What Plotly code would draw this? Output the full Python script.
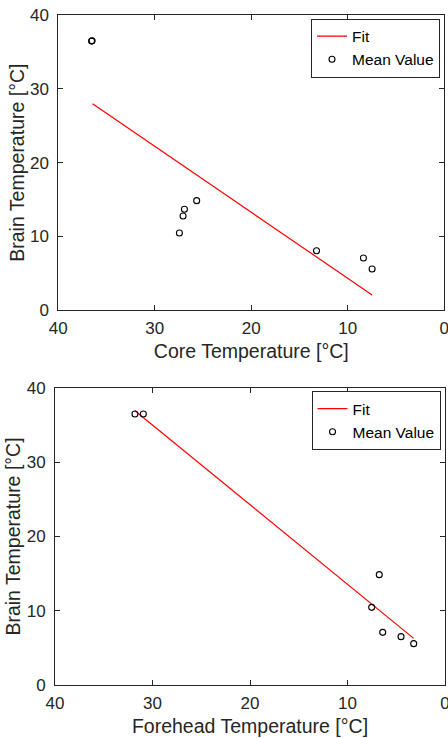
import plotly.graph_objects as go

# ---- data ----
core_x = [36.55, 36.5, 27.45, 27.07, 26.93, 25.66, 13.24, 8.38, 7.48]
core_brain_y = [36.5, 36.55, 10.45, 12.76, 13.67, 14.84, 8.05, 7.06, 5.57]
core_fit_x = [36.45, 7.48]
core_fit_y = [28.0, 2.04]

fore_x = [31.8, 30.94, 6.74, 7.52, 6.39, 4.51, 3.21]
fore_brain_y = [36.5, 36.5, 14.86, 10.46, 7.09, 6.51, 5.57]
fore_fit_x = [31.8, 3.21]
fore_fit_y = [36.94, 6.28]

tick_vals = [0, 10, 20, 30, 40]
tick_text = ["0", "10", "20", "30", "40"]

FONT = "Liberation Sans, Arial, Helvetica, sans-serif"
AX = "#262626"
W, H = 448, 738

fig = go.Figure()

# top panel
fig.add_trace(go.Scatter(x=core_fit_x, y=core_fit_y, mode="lines", name="Fit",
                         line=dict(color="#ff0000", width=1.2),
                         xaxis="x", yaxis="y", legend="legend"))
fig.add_trace(go.Scatter(x=core_x, y=core_brain_y, mode="markers", name="Mean Value",
                         marker=dict(symbol="circle-open", size=6, color="black",
                                     line=dict(width=1.1, color="black")),
                         xaxis="x", yaxis="y", legend="legend"))
# bottom panel
fig.add_trace(go.Scatter(x=fore_fit_x, y=fore_fit_y, mode="lines", name="Fit",
                         line=dict(color="#ff0000", width=1.2),
                         xaxis="x2", yaxis="y2", legend="legend2"))
fig.add_trace(go.Scatter(x=fore_x, y=fore_brain_y, mode="markers", name="Mean Value",
                         marker=dict(symbol="circle-open", size=6, color="black",
                                     line=dict(width=1.1, color="black")),
                         xaxis="x2", yaxis="y2", legend="legend2"))


def xax(domain, anchor, title):
    return dict(domain=domain, anchor=anchor, range=[40, 0], tickvals=tick_vals,
                ticktext=tick_text, ticks="inside", ticklen=5, tickwidth=1,
                tickcolor=AX, showline=True, linecolor=AX, linewidth=1,
                mirror="ticks", showgrid=False, zeroline=False, automargin=False,
                ticklabeloverflow="allow",
                tickfont=dict(family=FONT, size=17, color=AX),
                ticklabelstandoff=3,
                title=dict(text=title, font=dict(family=FONT, size=19.5, color=AX),
                           standoff=6))


def yax(domain, anchor, title):
    return dict(domain=domain, anchor=anchor, range=[0, 40], tickvals=tick_vals,
                ticktext=tick_text, ticks="inside", ticklen=5, tickwidth=1,
                tickcolor=AX, showline=True, linecolor=AX, linewidth=1,
                mirror="ticks", showgrid=False, zeroline=False, automargin=False,
                ticklabeloverflow="allow",
                tickfont=dict(family=FONT, size=17, color=AX),
                ticklabelstandoff=5,
                title=dict(text=title, font=dict(family=FONT, size=19.5, color=AX),
                           standoff=0))


def leg(x_right, y_top):
    return dict(x=x_right / W, y=1 - y_top / H, xanchor="right", yanchor="top",
                bgcolor="white", bordercolor=AX, borderwidth=1,
                font=dict(family=FONT, size=15.5, color="black"),
                tracegroupgap=0, itemwidth=30)


fig.update_layout(
    template="none",
    width=W, height=H, margin=dict(l=0, r=0, t=0, b=0, pad=0, autoexpand=False),
    paper_bgcolor="white", plot_bgcolor="white",
    xaxis=xax([58.3 / W, 444.3 / W], "y", "Core Temperature [°C]"),
    yaxis=yax([1 - 310 / H, 1 - 15.3 / H], "x", "Brain Temperature [°C]"),
    xaxis2=xax([55 / W, 445 / W], "y2", "Forehead Temperature [°C]"),
    yaxis2=yax([1 - 685 / H, 1 - 388 / H], "x2", "Brain Temperature [°C]"),
    legend=leg(440, 18.5),
    legend2=leg(440.5, 391),
    showlegend=True,
)

fig.write_html("out.html",
               config={"displayModeBar": False},
               post_script="document.body.style.margin='0px';"
                           "document.documentElement.style.overflow='hidden';")
